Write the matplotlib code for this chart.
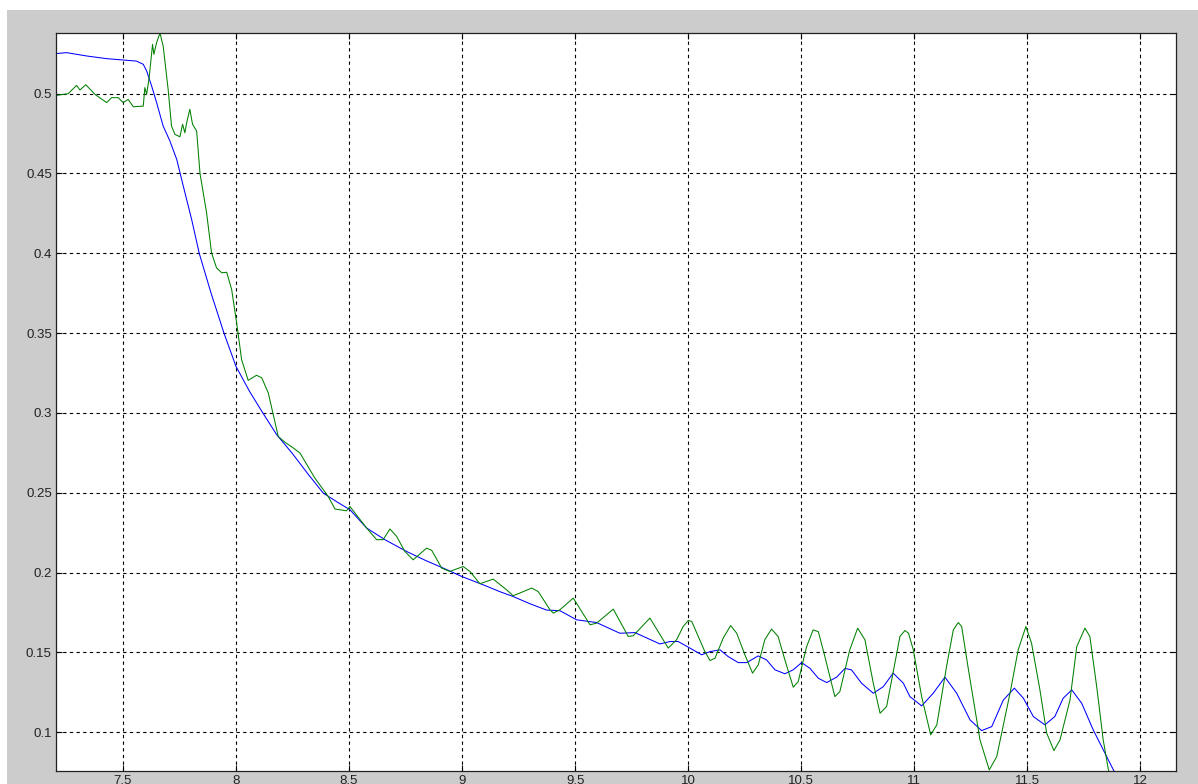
import numpy as np
import matplotlib.pyplot as plt
from matplotlib.patches import Rectangle

# blue trace
blue_x = [7.204, 7.25, 7.34, 7.43, 7.50, 7.56, 7.59, 7.605, 7.627, 7.649, 7.678,
          7.708, 7.738, 7.767, 7.804, 7.8375, 7.89, 7.947, 8.0, 8.06, 8.1206,
          8.18, 8.25, 8.32, 8.386, 8.45, 8.504, 8.578, 8.66, 8.755, 8.84, 8.917,
          8.998, 9.094, 9.168, 9.226, 9.30, 9.374, 9.433, 9.507, 9.595, 9.698,
          9.765, 9.875, 9.92, 9.956, 10.008, 10.06, 10.097, 10.141, 10.177,
          10.222, 10.259, 10.31, 10.347, 10.384, 10.428, 10.465, 10.502, 10.539,
          10.576, 10.613, 10.657, 10.694, 10.723, 10.767, 10.819, 10.863, 10.907,
          10.952, 10.981, 11.033, 11.084, 11.136, 11.188, 11.247, 11.298, 11.343,
          11.394, 11.443, 11.483, 11.527, 11.578, 11.622, 11.659, 11.697, 11.741,
          11.792, 11.881, 11.90]
blue_y = [0.5251, 0.5257, 0.5236, 0.5219, 0.5211, 0.5204, 0.5184, 0.5142, 0.5048,
          0.4944, 0.4797, 0.4703, 0.4588, 0.4421, 0.4212, 0.400, 0.375, 0.350,
          0.3292, 0.3135, 0.2996, 0.2864, 0.2745, 0.2615, 0.2498, 0.2440, 0.2394,
          0.2279, 0.2205, 0.2132, 0.2075, 0.2028, 0.1976, 0.1923, 0.1880, 0.1850,
          0.1805, 0.1765, 0.1761, 0.1704, 0.1687, 0.1620, 0.1624, 0.1553, 0.1568,
          0.1568, 0.1527, 0.1485, 0.1505, 0.1516, 0.1474, 0.1436, 0.1436, 0.1478,
          0.1453, 0.1391, 0.1366, 0.1391, 0.1436, 0.1400, 0.1338, 0.1311, 0.1345,
          0.1400, 0.1390, 0.1307, 0.1244, 0.1285, 0.1370, 0.1307, 0.1223, 0.1165,
          0.1244, 0.1345, 0.1244, 0.1077, 0.1010, 0.1035, 0.1201, 0.1276, 0.1213,
          0.1098, 0.1046, 0.1098, 0.1213, 0.1265, 0.1181, 0.1014, 0.0764, 0.0720]

# green trace
green_x = [7.204, 7.258, 7.295, 7.31, 7.336, 7.376, 7.428, 7.45, 7.479, 7.501,
           7.523, 7.546, 7.59, 7.597, 7.605, 7.616, 7.631, 7.637, 7.649, 7.664,
           7.678, 7.7, 7.715, 7.73, 7.752, 7.764, 7.774, 7.782, 7.796, 7.808,
           7.826, 7.841, 7.87, 7.892, 7.914, 7.937, 7.959, 7.981, 8.003, 8.025,
           8.054, 8.091, 8.114, 8.143, 8.187, 8.217, 8.253, 8.283, 8.349, 8.408,
           8.438, 8.489, 8.504, 8.578, 8.622, 8.651, 8.681, 8.711, 8.747, 8.784,
           8.843, 8.866, 8.91, 8.946, 9.005, 9.035, 9.079, 9.138, 9.197, 9.226,
           9.256, 9.308, 9.337, 9.389, 9.404, 9.433, 9.492, 9.566, 9.595, 9.669,
           9.735, 9.757, 9.831, 9.912, 9.949, 9.978, 10.001, 10.016, 10.045,
           10.074, 10.097, 10.119, 10.155, 10.188, 10.215, 10.251, 10.285, 10.31,
           10.339, 10.369, 10.398, 10.428, 10.465, 10.487, 10.524, 10.553, 10.576,
           10.605, 10.649, 10.671, 10.715, 10.75, 10.782, 10.819, 10.849, 10.878,
           10.937, 10.959, 10.975, 10.996, 11.033, 11.073, 11.1, 11.143, 11.173,
           11.195, 11.21, 11.24, 11.291, 11.332, 11.365, 11.424, 11.46, 11.494,
           11.519, 11.556, 11.586, 11.618, 11.645, 11.689, 11.719, 11.755, 11.777,
           11.807, 11.836, 11.859, 11.875]
green_y = [0.4989, 0.5, 0.5052, 0.5023, 0.5056, 0.4996, 0.4944, 0.4975, 0.4975,
           0.4944, 0.4964, 0.4918, 0.4922, 0.5038, 0.4996, 0.51, 0.5309, 0.5246,
           0.532, 0.538, 0.5298, 0.5027, 0.4797, 0.4745, 0.473, 0.4808, 0.4755,
           0.4818, 0.4902, 0.4808, 0.4766, 0.45, 0.4254, 0.4003, 0.3909, 0.3878,
           0.3881, 0.3773, 0.3564, 0.3334, 0.3204, 0.3236, 0.322, 0.3125, 0.2853,
           0.2816, 0.2781, 0.2749, 0.2592, 0.2477, 0.2398, 0.2387, 0.2414, 0.2279,
           0.2206, 0.2206, 0.2273, 0.2226, 0.2132, 0.208, 0.2153, 0.2139, 0.2028,
           0.2007, 0.2038, 0.2007, 0.193, 0.1959, 0.1892, 0.1855, 0.1872, 0.1903,
           0.1881, 0.1767, 0.1746, 0.1767, 0.184, 0.1673, 0.1683, 0.1771, 0.16,
           0.1604, 0.1715, 0.1527, 0.1579, 0.1662, 0.17, 0.1694, 0.16, 0.1505,
           0.1449, 0.1464, 0.1589, 0.1668, 0.162, 0.1485, 0.137, 0.1421, 0.1579,
           0.1646, 0.16, 0.1453, 0.1282, 0.1317, 0.1536, 0.1641, 0.163, 0.1473,
           0.1223, 0.1254, 0.1516, 0.1652, 0.1579, 0.1307, 0.1119, 0.1161, 0.16,
           0.1637, 0.162, 0.1516, 0.1223, 0.0983, 0.1046, 0.1411, 0.1641, 0.1687,
           0.1662, 0.1391, 0.0952, 0.0764, 0.0847, 0.1245, 0.1516, 0.1662, 0.1558,
           0.1266, 0.0994, 0.0885, 0.0952, 0.1201, 0.1536, 0.1652, 0.16, 0.1288,
           0.0952, 0.0764, 0.070]

xticks = [7.5, 8, 8.5, 9, 9.5, 10, 10.5, 11, 11.5, 12]
xticklabels = ['7.5', '8', '8.5', '9', '9.5', '10', '10.5', '11', '11.5', '12']
yticks = [0.1, 0.15, 0.2, 0.25, 0.3, 0.35, 0.4, 0.45, 0.5]
yticklabels = ['0.1', '0.15', '0.2', '0.25', '0.3', '0.35', '0.4', '0.45', '0.5']

plt.rcParams['font.family'] = ['Liberation Sans', 'DejaVu Sans']

W, H = 1198, 784
fig = plt.figure(figsize=(W / 100, H / 100), dpi=100, facecolor='white')
# grey figure area, white strip top/left like the screenshot
fig.patches.append(Rectangle((7 / W, 0), 1, (H - 10) / H, transform=fig.transFigure,
                             facecolor='#cccccc', edgecolor='none', zorder=-10))

ax = fig.add_axes([56 / W, 13 / H, 1120 / W, 738 / H])
ax.set_facecolor('white')

ax.plot(blue_x, blue_y, color=(0, 0, 1), lw=0.75)
ax.plot(green_x, green_y, color=(0, 0.5, 0), lw=0.75)

ax.set_xlim(7.204, 12.158)
ax.set_ylim(0.0757, 0.538)
ax.set_xticks(xticks)
ax.set_xticklabels(xticklabels)
ax.set_yticks(yticks)
ax.set_yticklabels(yticklabels)

ax.grid(True, color='black', linestyle=(0, (3, 3)), lw=0.8)
ax.tick_params(direction='in', length=4.5, width=0.8, top=True, right=True,
               labelsize=9.5, labelcolor='#222222', pad=3)
for s in ax.spines.values():
    s.set_linewidth(0.9)
    s.set_color('#222222')

fig.savefig('out.png', dpi=100, facecolor=fig.get_facecolor())
